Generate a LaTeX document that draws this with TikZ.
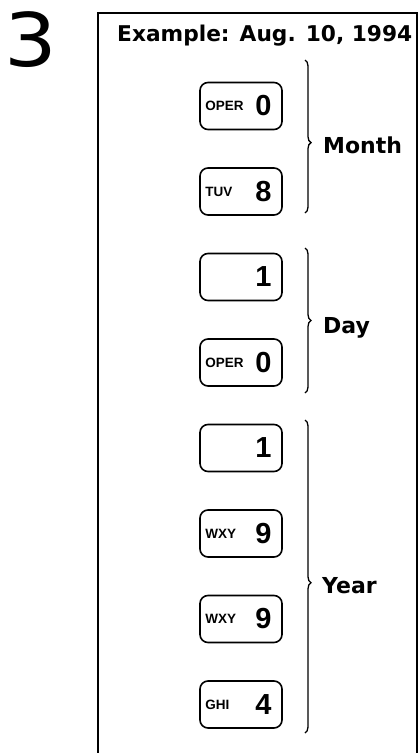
\documentclass[tikz,border=0pt]{standalone}
\usepackage{fontspec}
\setmainfont{DejaVu Sans}
\newfontfamily\teclas{Liberation Sans}
\usetikzlibrary{decorations.pathreplacing}

\begin{document}
\begin{tikzpicture}[x=1pt,y=-1pt,
    tecla/.style={draw,line width=1.6pt,rounded corners=8pt,
                  minimum width=82pt,minimum height=47pt,inner sep=0pt},
    rotulo/.style={font=\teclas\bfseries\fontsize{13.5}{14}\selectfont,
                   anchor=west,inner sep=0pt},
    cifra/.style={font=\teclas\bfseries\fontsize{29}{32}\selectfont,
                  anchor=east,inner sep=0pt},
    llave/.style={decorate,decoration={brace,amplitude=6pt},line width=1.3pt},
    campo/.style={font=\bfseries\fontsize{22}{24}\selectfont,
                  anchor=base west,inner sep=0pt}]
  \useasboundingbox (0,0) rectangle (420,753);
  \node[font=\fontsize{74}{80}\selectfont,inner sep=0pt] (paso) at (31,40)
    {\scalebox{1.12}[1]{3}};
  % marco abierto por abajo
  \draw[line width=2pt] (98,753) -- (98,13) -- (417,13) -- (417,753);
  \node[font=\bfseries\fontsize{21.7}{24}\selectfont,anchor=base west,
        inner sep=0pt] (titulo) at (117,41) {Example: Aug. 10, 1994};

  \foreach \n/\l/\d [count=\i] in {m1/OPER/0, m2/TUV/8, d1//1, d2/OPER/0,
                                   a1//1, a2/WXY/9, a3/WXY/9, a4/GHI/4}{
    \node[tecla] (\n) at (241,{106+85.5*(\i-1)}) {};
    \node[rotulo] (\n l) at ([xshift=6pt]\n.west) {\l};
    \node[cifra] (\n d) at ([xshift=-11pt]\n.east) {\d};
  }

  \draw[llave,decoration={aspect=0.54}] (305,60) -- (305,213);
  \draw[llave,decoration={aspect=0.5}] (305,248) -- (305,393);
  \draw[llave,decoration={aspect=0.52}] (305,420) -- (305,733);
  \node[campo] (mes) at (323,153) {Month};
  \node[campo] (dia) at (323,333) {Day};
  \node[campo] (anio) at (322,593) {Year};
\end{tikzpicture}
\end{document}
